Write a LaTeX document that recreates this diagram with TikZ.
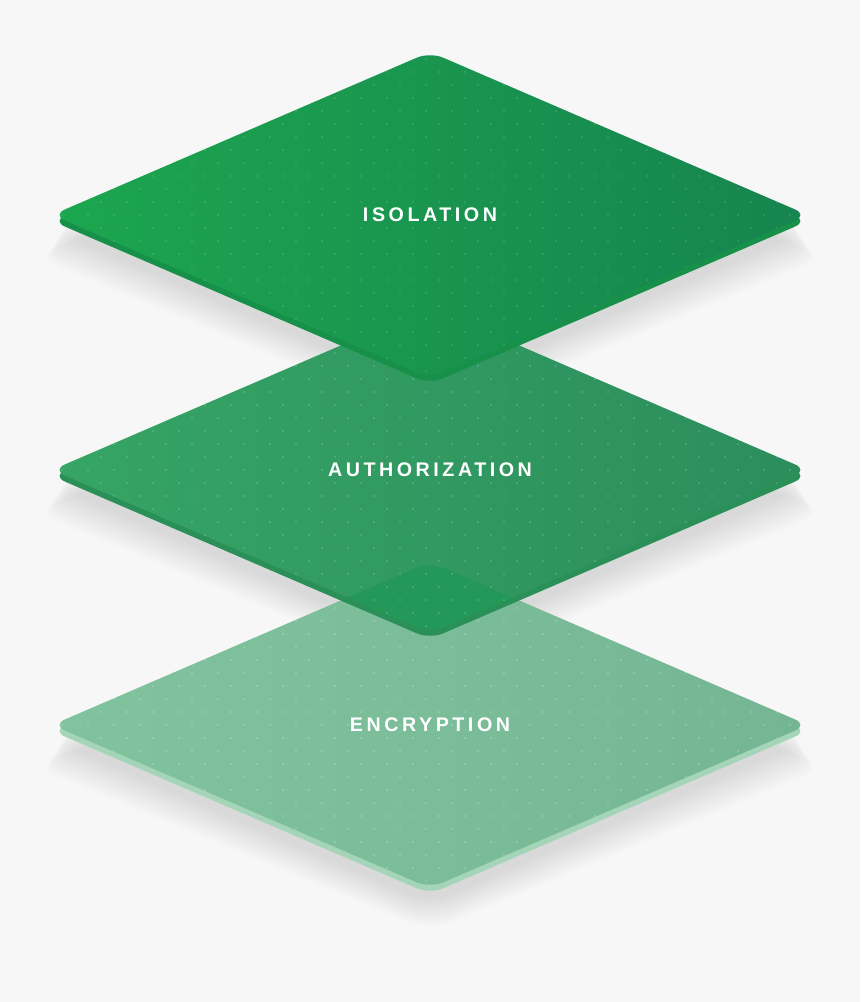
\documentclass[tikz,border=0pt]{standalone}
\usepackage{fontspec}
\setsansfont{Liberation Sans}
\usetikzlibrary{positioning}
\definecolor{bggray}{HTML}{F7F7F7}
\definecolor{isoleft}{HTML}{1CA64F}
\definecolor{isoright}{HTML}{16844F}
\definecolor{isorim}{HTML}{17904A}
\definecolor{authleft}{HTML}{36A565}
\definecolor{authright}{HTML}{2C8D5D}
\definecolor{authrim}{HTML}{2A9058}
\definecolor{encleft}{HTML}{82C39F}
\definecolor{encright}{HTML}{74B593}
\definecolor{encrim}{HTML}{A4D5B8}
\definecolor{overlapgreen}{HTML}{239858}
\tikzset{
  lbl/.style={
    text=white,
    font=\sffamily\bfseries\fontsize{11.2}{13}\selectfont\addfontfeatures{LetterSpace=18}
  },
  face/.style={rounded corners=8pt}
}
% face of one layer, centred at (430,#2)
\newcommand{\facepath}[2]{
  \path[#1] (430,#2-163) -- (808,#2) -- (430,#2+163) -- (52,#2) -- cycle;
}
% soft shadow under a layer
\newcommand{\layershadow}[1]{
  \foreach \k in {1,...,10}
    \fill[black, opacity=0.011, rounded corners=14pt]
      (430,#1-150+\k*3) -- (806+\k*2,#1+12+\k*3) -- (430,#1+176+\k*3) -- (54-\k*2,#1+12+\k*3) -- cycle;
}
% rim and shaded face
\newcommand{\layerbody}[4]{
  \facepath{fill=#4, face}{#1+6}
  \facepath{left color=#2, right color=#3, face}{#1}
}
% faint dot grid on a face
\newcommand{\layerdots}[2]{
  \begin{scope}
    \facepath{clip, face}{#1}
    \foreach \j in {0,...,24} {
      \pgfmathsetmacro{\off}{mod(\j,2)*13}
      \foreach \i in {0,...,28}
        \fill[white, opacity=#2] (62+\off+\i*26, #1-156+\j*13) circle[radius=0.6pt];
    }
  \end{scope}
}

\begin{document}
\begin{tikzpicture}[x=0.02cm, y=-0.02cm]

% background
\fill[bggray] (0,0) rectangle (860,1002);
\useasboundingbox (0,0) rectangle (860,1002);

% shadows
\layershadow{725}
\layershadow{470}
\layershadow{215}

% Encryption layer
\layerbody{725}{encleft}{encright}{encrim}
\layerdots{725}{0.22}

% Authorization layer
\layerbody{470}{authleft}{authright}{authrim}
\begin{scope}
  \facepath{clip, face}{470}
  \facepath{fill=overlapgreen, face}{725}
\end{scope}
\layerdots{470}{0.18}

% Isolation layer
\layerbody{215}{isoleft}{isoright}{isorim}
\layerdots{215}{0.14}

% labels
\node[lbl] (isolation) at (430,215) {ISOLATION};
\node[lbl] (authorization) at (430,470) {AUTHORIZATION};
\node[lbl] (encryption) at (430,725) {ENCRYPTION};

\end{tikzpicture}
\end{document}
